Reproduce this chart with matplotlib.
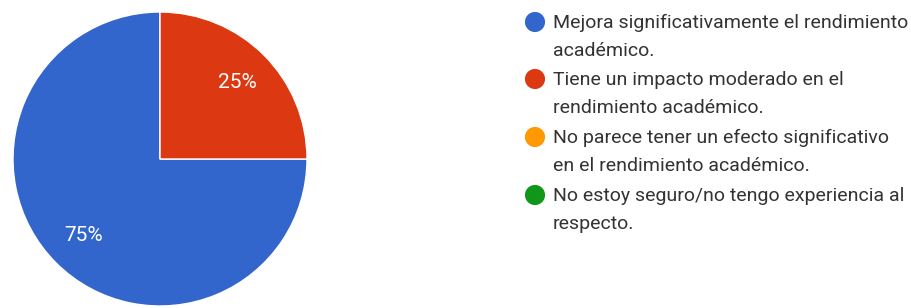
import matplotlib.pyplot as plt

# Survey answers and their share of responses
labels = [
    "Mejora significativamente el rendimiento\nacadémico.",
    "Tiene un impacto moderado en el\nrendimiento académico.",
    "No parece tener un efecto significativo\nen el rendimiento académico.",
    "No estoy seguro/no tengo experiencia al\nrespecto.",
]
values = [75, 25, 0, 0]
colors = ["#3366CC", "#DC3912", "#FF9900", "#109618"]

plt.rcParams["font.family"] = ["Roboto", "DejaVu Sans"]

fig = plt.figure(figsize=(9.11, 3.08), dpi=100)
W, H = 911, 308

# Pie axes placed in pixel terms
cx, cy, r = 160, 159, 147
ax = fig.add_axes([(cx - r) / W, (H - cy - r) / H, 2 * r / W, 2 * r / H])
shown = [v for v in values if v > 0]
wedges, texts, autotexts = ax.pie(
    shown,
    colors=colors[: len(shown)],
    startangle=90,
    counterclock=True,
    autopct="%1.0f%%",
    pctdistance=0.74,
    wedgeprops=dict(edgecolor="white", linewidth=1),
    textprops=dict(color="white", fontsize=15),
)
ax.set_xlim(-1, 1)
ax.set_ylim(-1, 1)
ax.set_aspect("equal")

# Legend drawn by hand so the marker sits on the first line
lax = fig.add_axes([0, 0, 1, 1])
lax.set_xlim(0, W)
lax.set_ylim(H, 0)
lax.axis("off")
rows = [22, 79, 137, 195]
lax.scatter([535] * len(rows), rows, s=210, c=colors, linewidths=0)
for y, lab in zip(rows, labels):
    lax.text(553, y - 8, lab, fontsize=14, color="#333333", va="top",
             ha="left", linespacing=1.68)

fig.savefig("out.png", dpi=100)
